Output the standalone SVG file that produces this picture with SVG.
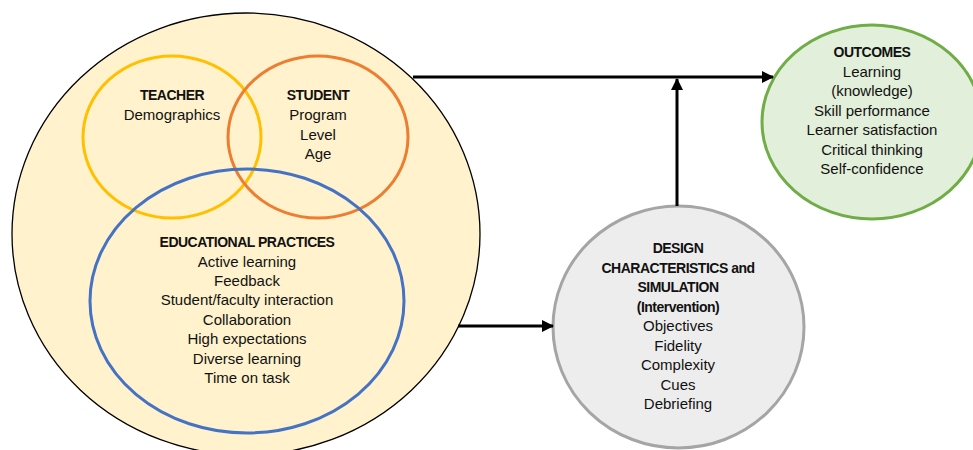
<svg xmlns="http://www.w3.org/2000/svg" width="973" height="450" viewBox="0 0 973 450">
<defs>
<style>
text{font-family:"Liberation Sans",Arial,sans-serif;font-size:15px;fill:#111;text-anchor:middle}
.b{font-weight:bold;font-size:14px;letter-spacing:-0.5px}
.conn{stroke:#000;stroke-width:3;fill:none}
</style>
<marker id="ah" viewBox="0 0 12 12" refX="11" refY="6" markerWidth="12" markerHeight="12" markerUnits="userSpaceOnUse" orient="auto">
<path d="M0,0 L12,6 L0,12 Z" fill="#000"/>
</marker>
</defs>
<rect width="973" height="450" fill="#fff"/>
<g id="context">
<ellipse cx="246" cy="234" rx="234" ry="221" fill="#FFF2CC" stroke="#000" stroke-width="1.3"/>
</g>
<g id="teacher">
<ellipse cx="172" cy="137" rx="89" ry="81" fill="none" stroke="#FFC000" stroke-width="3"/>
<text x="172" y="100" class="b">TEACHER</text>
<text x="172" y="120">Demographics</text>
</g>
<g id="student">
<ellipse cx="318" cy="137" rx="90" ry="81" fill="none" stroke="#ED7D31" stroke-width="3"/>
<text x="318" y="100" class="b">STUDENT</text>
<text x="318" y="120">Program</text>
<text x="318" y="140">Level</text>
<text x="318" y="159">Age</text>
</g>
<g id="practices">
<ellipse cx="247" cy="301" rx="157" ry="132" fill="none" stroke="#4472C4" stroke-width="3"/>
<text x="247" y="247" class="b">EDUCATIONAL PRACTICES</text>
<text x="247" y="267">Active learning</text>
<text x="247" y="286">Feedback</text>
<text x="247" y="305">Student/faculty interaction</text>
<text x="247" y="325">Collaboration</text>
<text x="247" y="344">High expectations</text>
<text x="247" y="364">Diverse learning</text>
<text x="247" y="383">Time on task</text>
</g>
<g id="design">
<ellipse cx="678.5" cy="327" rx="125.5" ry="121" fill="#EDEDED" stroke="#A5A5A5" stroke-width="3"/>
<text x="678" y="253" class="b">DESIGN</text>
<text x="678" y="273" class="b">CHARACTERISTICS and</text>
<text x="678" y="292" class="b">SIMULATION</text>
<text x="678" y="312" class="b">(Intervention)</text>
<text x="678" y="331">Objectives</text>
<text x="678" y="351">Fidelity</text>
<text x="678" y="370">Complexity</text>
<text x="678" y="390">Cues</text>
<text x="678" y="409">Debriefing</text>
</g>
<g id="outcomes">
<ellipse cx="872" cy="122" rx="110" ry="97" fill="#E2EFDA" stroke="#70AD47" stroke-width="3"/>
<text x="872" y="57" class="b">OUTCOMES</text>
<text x="872" y="77">Learning</text>
<text x="872" y="96">(knowledge)</text>
<text x="872" y="116">Skill performance</text>
<text x="872" y="135">Learner satisfaction</text>
<text x="872" y="155">Critical thinking</text>
<text x="872" y="174">Self-confidence</text>
</g>
<g id="connectors">
<line class="conn" x1="413" y1="77" x2="773" y2="77" marker-end="url(#ah)"/>
<line class="conn" x1="677" y1="206" x2="677" y2="79" marker-end="url(#ah)"/>
<line class="conn" x1="458" y1="326" x2="553" y2="326" marker-end="url(#ah)"/>
</g>
</svg>
